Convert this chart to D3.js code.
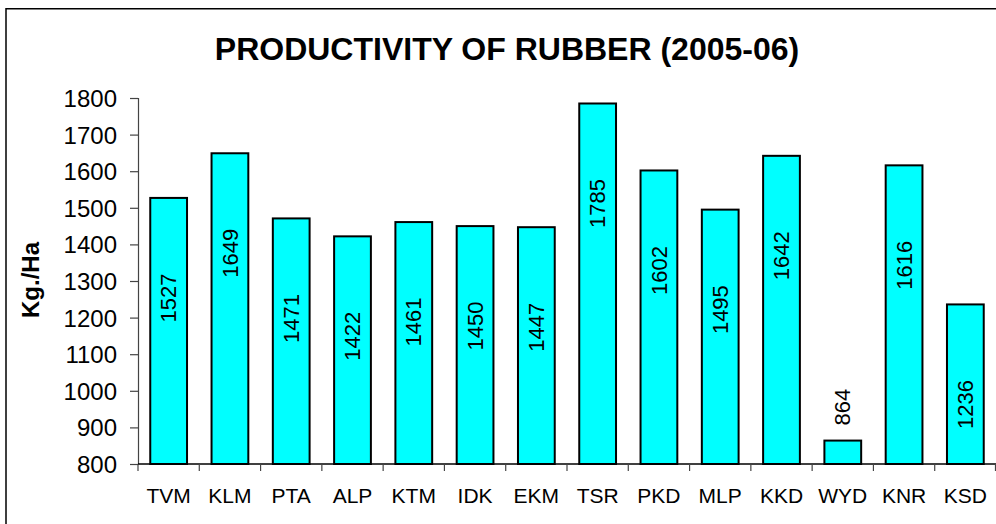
<!DOCTYPE html>
<html>
<head>
<meta charset="utf-8">
<title>Productivity of rubber</title>
<script src="https://d3js.org/d3.v7.min.js"></script>
<style>
  body { margin: 0; background: #fff; }
  svg text { font-family: Arial, "Liberation Sans", sans-serif; fill: #000; }
</style>
</head>
<body>
<div id="chart"></div>
<script>
// district codes and productivity (Kg./Ha), 2005-06
var districts = ["TVM", "KLM", "PTA", "ALP", "KTM", "IDK", "EKM", "TSR", "PKD", "MLP", "KKD", "WYD", "KNR", "KSD"];
var yields = [1527, 1649, 1471, 1422, 1461, 1450, 1447, 1785, 1602, 1495, 1642, 864, 1616, 1236];
var yTicks = [800, 900, 1000, 1100, 1200, 1300, 1400, 1500, 1600, 1700, 1800];

var W = 996, H = 524;
var plot = {left: 138, right: 996, top: 98, bottom: 464};

var svg = d3.select("#chart").append("svg")
  .attr("width", W).attr("height", H);

// outer chart frame
svg.append("rect")
  .attr("x", 6).attr("y", 8.75)
  .attr("width", 1010).attr("height", 540)
  .attr("fill", "none").attr("stroke", "#000").attr("stroke-width", 1.5);

var x = d3.scaleBand()
  .domain(districts)
  .range([plot.left, plot.right])
  .padding(0);

var y = d3.scaleLinear()
  .domain([yTicks[0], yTicks[yTicks.length - 1]])
  .range([plot.bottom, plot.top]);

// y axis
var yAxis = svg.append("g")
  .attr("transform", "translate(" + plot.left + ",0)")
  .call(d3.axisLeft(y).tickValues(yTicks).tickSize(8).tickPadding(13).tickFormat(d3.format("d")));
yAxis.select(".domain").attr("stroke", "#444").attr("stroke-width", 1.2);
yAxis.selectAll(".tick line").attr("stroke", "#444").attr("stroke-width", 1.2);
yAxis.selectAll(".tick text")
  .style("font-size", "24px")
  .attr("dy", "0.35em");

// bars
var barW = x.bandwidth() * 0.6;
svg.selectAll("rect.bar")
  .data(districts)
  .enter().append("rect")
  .attr("class", "bar")
  .attr("x", function(d) { return x(d) + (x.bandwidth() - barW) / 2; })
  .attr("y", function(d, i) { return y(yields[i]); })
  .attr("width", barW)
  .attr("height", function(d, i) { return plot.bottom - y(yields[i]); })
  .attr("fill", "#00FFFF")
  .attr("stroke", "#000")
  .attr("stroke-width", 2);

// x axis baseline and boundary ticks
svg.append("line")
  .attr("x1", plot.left).attr("x2", plot.right)
  .attr("y1", plot.bottom).attr("y2", plot.bottom)
  .attr("stroke", "#000").attr("stroke-width", 1.5);
var bounds = districts.map(function(d) { return x(d); }).concat([x.range()[1] - 0.5]);
svg.selectAll("line.xtick")
  .data(bounds)
  .enter().append("line")
  .attr("class", "xtick")
  .attr("x1", function(d) { return d; }).attr("x2", function(d) { return d; })
  .attr("y1", plot.bottom).attr("y2", plot.bottom + 7)
  .attr("stroke", "#444").attr("stroke-width", 1.2);

svg.selectAll("text.xlab")
  .data(districts)
  .enter().append("text")
  .attr("class", "xlab")
  .attr("x", function(d) { return x(d) + x.bandwidth() / 2; })
  .attr("y", 503)
  .attr("text-anchor", "middle")
  .style("font-size", "21px")
  .text(function(d) { return d; });

// value labels, rotated; inside the bar unless the bar is too short
svg.selectAll("text.val")
  .data(districts)
  .enter().append("text")
  .attr("class", "val")
  .attr("transform", function(d, i) {
    var cx = x(d) + x.bandwidth() / 2;
    var top = y(yields[i]);
    var inside = plot.bottom - top > 150;
    var cy = inside ? top + 100 : top - 15;
    return "translate(" + cx + "," + cy + ") rotate(-90)";
  })
  .attr("text-anchor", function(d, i) { return plot.bottom - y(yields[i]) > 150 ? "middle" : "start"; })
  .attr("dy", "0.35em")
  .style("font-size", "22px")
  .text(function(d, i) { return yields[i]; });

// titles
svg.append("text")
  .attr("x", 507).attr("y", 60)
  .attr("text-anchor", "middle")
  .style("font-size", "32px").style("font-weight", "bold")
  .text("PRODUCTIVITY OF RUBBER (2005-06)");

svg.append("text")
  .attr("transform", "translate(39,280) rotate(-90)")
  .attr("text-anchor", "middle")
  .style("font-size", "24px").style("font-weight", "bold")
  .text("Kg./Ha");
</script>
</body>
</html>
